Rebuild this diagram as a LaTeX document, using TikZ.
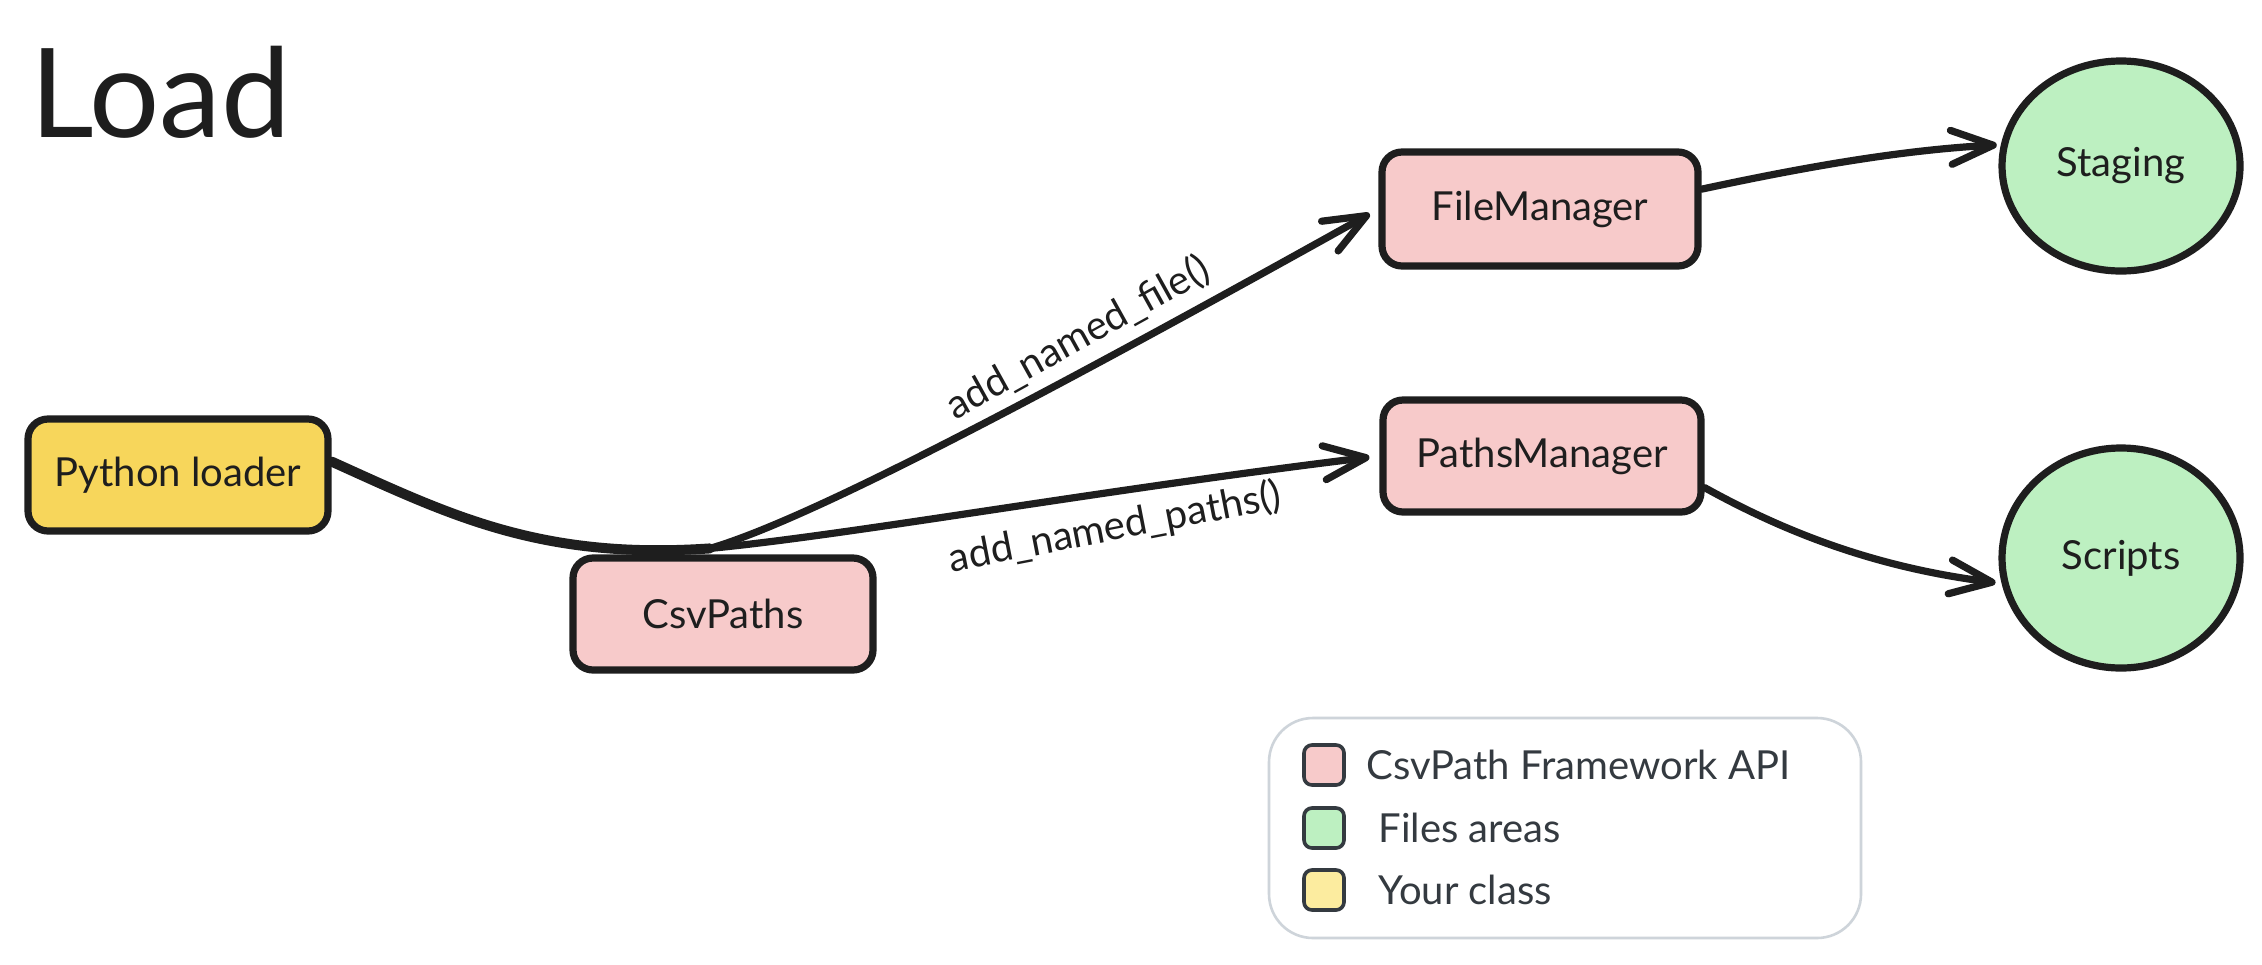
\documentclass[tikz,border=0pt]{standalone}
\usepackage{fontspec}
\setmainfont{Lato}
\usetikzlibrary{arrows.meta,shapes.geometric,calc}
\definecolor{ink}{HTML}{1E1E1E}
\definecolor{pinkf}{HTML}{F7CACA}
\definecolor{yellowf}{HTML}{F7D65B}
\definecolor{greenf}{HTML}{BDF0C1}
\definecolor{legyellow}{HTML}{FCEC9F}
\definecolor{legink}{HTML}{343A40}
\definecolor{legborder}{HTML}{CED4DA}
\begin{document}
\begin{tikzpicture}[x=0.5pt,y=-0.5pt,
  txt/.style={font=\fontsize{20}{24}\selectfont, text=ink},
  box/.style={txt, draw=ink, line width=3.6pt, rounded corners=10pt, minimum width=150pt, minimum height=56pt, inner sep=0pt},
  area/.style={txt, ellipse, draw=ink, line width=3.6pt, fill=greenf, inner sep=0pt},
  conn/.style={draw=ink, line width=3.6pt, line cap=round},
  arr/.style={conn, -{Straight Barb[length=21pt,width=17pt,line cap=round,round]}},
  swatch/.style={draw=legink, line width=1.8pt, rounded corners=4pt, minimum size=20pt, inner sep=0pt},
  legtxt/.style={font=\fontsize{20}{24}\selectfont, text=legink, anchor=west, inner sep=0pt}
]
\useasboundingbox (0,0) rectangle (2262,964);
\fill[white] (0,0) rectangle (2262,964);

\node[anchor=base west, inner sep=0pt, font=\fontsize{62}{70}\selectfont, text=ink] (title) at (30,137) {Load};

\node[box, fill=yellowf] (py) at (178,475) {Python loader};
\node[box, fill=pinkf] (csv) at (723,614) {CsvPaths};
\node[box, fill=pinkf, minimum width=158pt, minimum height=57pt] (fm) at (1540,209) {FileManager};
\node[box, fill=pinkf, minimum width=159pt] (pm) at (1542,456) {PathsManager};
\node[area, minimum width=119pt, minimum height=105pt] (stg) at (2121,166) {Staging};
\node[area, minimum width=119pt, minimum height=110pt] (scr) at (2121,558) {Scripts};

\coordinate (j) at ($(csv.north)+(-13,-6)$);

\draw[conn, line width=5pt] (py.5) .. controls (450,515) and (540,560) .. (j);
\draw[arr, shorten >=5pt] (j) .. controls (800,522) and (1000,420) .. (fm.west);
\draw[arr, shorten >=5pt] (j) .. controls (850,535) and (1100,490) .. (pm.west);
\draw[arr, shorten >=2pt] (fm.7) .. controls (1800,168) and (1900,150) .. (stg.170);
\draw[arr, shorten >=3pt] (pm.-11) .. controls (1790,535) and (1880,568) .. (scr.192);

\node[txt, rotate=29, inner sep=0pt] (l1) at (1078,338) {add\_named\_file()};
\node[txt, rotate=11, inner sep=0pt] (l2) at (1115,528) {add\_named\_paths()};

\node[draw=legborder, line width=1.3pt, rounded corners=22pt, minimum width=296pt, minimum height=110pt] (legend) at (1565,828) {};
\node[swatch, fill=pinkf] (s1) at (1324,765) {};
\node[swatch, fill=greenf] (s2) at (1324,828) {};
\node[swatch, fill=legyellow] (s3) at (1324,890) {};
\node[legtxt] (t1) at (1366,765) {CsvPath Framework API};
\node[legtxt] (t2) at (1378,828) {Files areas};
\node[legtxt] (t3) at (1378,890) {Your class};
\end{tikzpicture}
\end{document}
